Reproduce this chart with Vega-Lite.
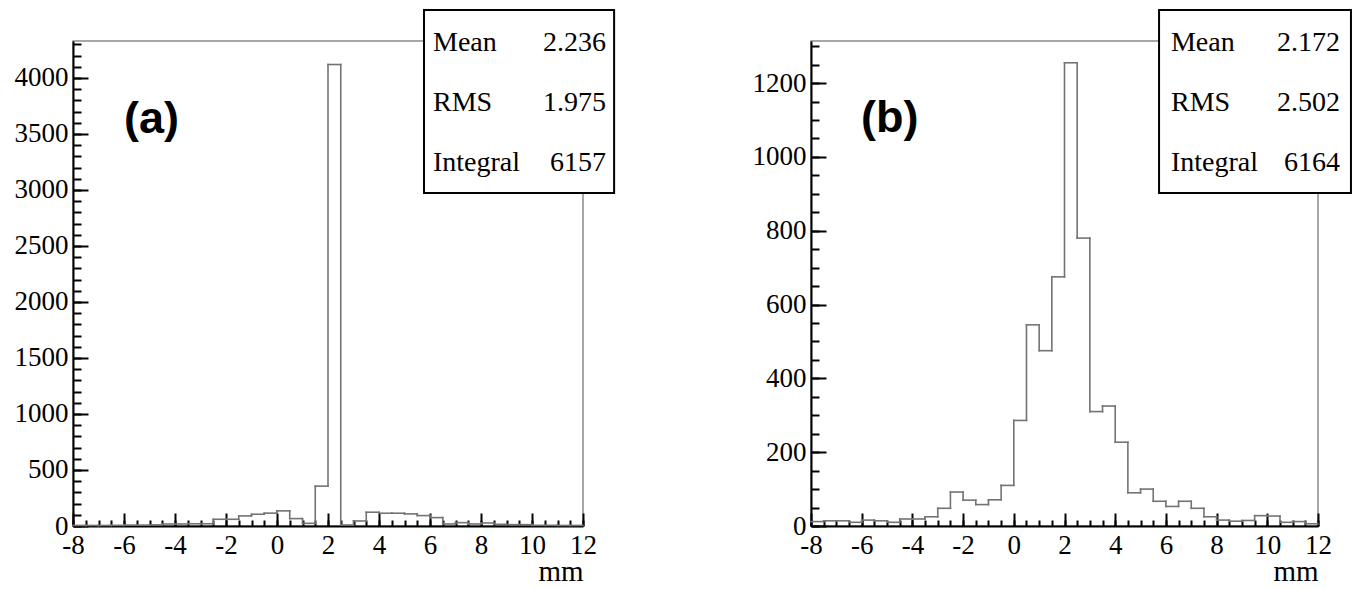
{
  "$schema": "https://vega.github.io/schema/vega-lite/v6.json",
  "background": "white",
  "padding": {"left": 13, "top": 8, "right": 0, "bottom": 0},
  "config": {"view": {"stroke": "#8a8a8a", "strokeWidth": 1.5}, "axis": {"grid": false}},
  "spacing": 135,
  "datasets": {
    "histA": [
      {"lo": -8, "hi": -7.5, "count": 5}, {"lo": -7.5, "hi": -7, "count": 5}, {"lo": -7, "hi": -6.5, "count": 5}, {"lo": -6.5, "hi": -6, "count": 6},
      {"lo": -6, "hi": -5.5, "count": 8}, {"lo": -5.5, "hi": -5, "count": 8}, {"lo": -5, "hi": -4.5, "count": 10}, {"lo": -4.5, "hi": -4, "count": 18},
      {"lo": -4, "hi": -3.5, "count": 18}, {"lo": -3.5, "hi": -3, "count": 20}, {"lo": -3, "hi": -2.5, "count": 20}, {"lo": -2.5, "hi": -2, "count": 60},
      {"lo": -2, "hi": -1.5, "count": 60}, {"lo": -1.5, "hi": -1, "count": 90}, {"lo": -1, "hi": -0.5, "count": 105}, {"lo": -0.5, "hi": 0, "count": 115},
      {"lo": 0, "hi": 0.5, "count": 135}, {"lo": 0.5, "hi": 1, "count": 66}, {"lo": 1, "hi": 1.5, "count": 24}, {"lo": 1.5, "hi": 2, "count": 356},
      {"lo": 2, "hi": 2.5, "count": 4120}, {"lo": 2.5, "hi": 3, "count": 9}, {"lo": 3, "hi": 3.5, "count": 45}, {"lo": 3.5, "hi": 4, "count": 123},
      {"lo": 4, "hi": 4.5, "count": 114}, {"lo": 4.5, "hi": 5, "count": 114}, {"lo": 5, "hi": 5.5, "count": 108}, {"lo": 5.5, "hi": 6, "count": 93},
      {"lo": 6, "hi": 6.5, "count": 75}, {"lo": 6.5, "hi": 7, "count": 18}, {"lo": 7, "hi": 7.5, "count": 30}, {"lo": 7.5, "hi": 8, "count": 18},
      {"lo": 8, "hi": 8.5, "count": 27}, {"lo": 8.5, "hi": 9, "count": 15}, {"lo": 9, "hi": 9.5, "count": 12}, {"lo": 9.5, "hi": 10, "count": 12},
      {"lo": 10, "hi": 10.5, "count": 6}, {"lo": 10.5, "hi": 11, "count": 6}, {"lo": 11, "hi": 11.5, "count": 5}, {"lo": 11.5, "hi": 12, "count": 5}
    ],
    "histB": [
      {"lo": -8, "hi": -7.5, "count": 12}, {"lo": -7.5, "hi": -7, "count": 14}, {"lo": -7, "hi": -6.5, "count": 14}, {"lo": -6.5, "hi": -6, "count": 10},
      {"lo": -6, "hi": -5.5, "count": 16}, {"lo": -5.5, "hi": -5, "count": 14}, {"lo": -5, "hi": -4.5, "count": 10}, {"lo": -4.5, "hi": -4, "count": 19},
      {"lo": -4, "hi": -3.5, "count": 19}, {"lo": -3.5, "hi": -3, "count": 25}, {"lo": -3, "hi": -2.5, "count": 48}, {"lo": -2.5, "hi": -2, "count": 92},
      {"lo": -2, "hi": -1.5, "count": 70}, {"lo": -1.5, "hi": -1, "count": 58}, {"lo": -1, "hi": -0.5, "count": 71}, {"lo": -0.5, "hi": 0, "count": 110},
      {"lo": 0, "hi": 0.5, "count": 286}, {"lo": 0.5, "hi": 1, "count": 545}, {"lo": 1, "hi": 1.5, "count": 475}, {"lo": 1.5, "hi": 2, "count": 675},
      {"lo": 2, "hi": 2.5, "count": 1255}, {"lo": 2.5, "hi": 3, "count": 780}, {"lo": 3, "hi": 3.5, "count": 310}, {"lo": 3.5, "hi": 4, "count": 325},
      {"lo": 4, "hi": 4.5, "count": 227}, {"lo": 4.5, "hi": 5, "count": 90}, {"lo": 5, "hi": 5.5, "count": 100}, {"lo": 5.5, "hi": 6, "count": 67},
      {"lo": 6, "hi": 6.5, "count": 53}, {"lo": 6.5, "hi": 7, "count": 67}, {"lo": 7, "hi": 7.5, "count": 48}, {"lo": 7.5, "hi": 8, "count": 25},
      {"lo": 8, "hi": 8.5, "count": 16}, {"lo": 8.5, "hi": 9, "count": 13}, {"lo": 9, "hi": 9.5, "count": 15}, {"lo": 9.5, "hi": 10, "count": 28},
      {"lo": 10, "hi": 10.5, "count": 27}, {"lo": 10.5, "hi": 11, "count": 10}, {"lo": 11, "hi": 11.5, "count": 12}, {"lo": 11.5, "hi": 12, "count": 6}
    ],
    "statsA": [{"stat": "Mean", "value": "2.236"}, {"stat": "RMS", "value": "1.975"}, {"stat": "Integral", "value": "6157"}],
    "statsB": [{"stat": "Mean", "value": "2.172"}, {"stat": "RMS", "value": "2.502"}, {"stat": "Integral", "value": "6164"}],
    "tagA": [{"tag": "(a)"}],
    "tagB": [{"tag": "(b)"}]
  },
  "hconcat": [
    {
      "width": 510,
      "height": 485,
      "resolve": {"axis": {"x": "independent", "y": "independent"}},
      "layer": [
        {
          "data": {"name": "histA"},
          "mark": {"type": "rule", "color": "#737373", "strokeWidth": 1.6, "strokeCap": "square"},
          "encoding": {
            "x": {"field": "lo", "type": "quantitative", "scale": {"domain": [-8, 12], "nice": false, "zero": false},
              "axis": {"orient": "bottom", "values": [-8, -6, -4, -2, 0, 2, 4, 6, 8, 10, 12], "ticks": false, "domainColor": "black", "domainWidth": 2, "labelExpr": "datum.value + ''", "labelFont": "Liberation Serif", "labelFontSize": 27, "labelColor": "black", "labelPadding": 6, "labelFlush": false, "labelOverlap": false, "title": "mm", "titleAnchor": "end", "titleFont": "Liberation Serif", "titleFontSize": 29, "titleFontWeight": "normal", "titleColor": "black", "titlePadding": -1}},
            "x2": {"field": "hi"},
            "y": {"field": "count", "type": "quantitative", "scale": {"domain": [0, 4330], "nice": false},
              "axis": {"orient": "left", "values": [0, 500, 1000, 1500, 2000, 2500, 3000, 3500, 4000], "ticks": false, "domainColor": "black", "domainWidth": 2, "labelExpr": "datum.value + ''", "labelFont": "Liberation Serif", "labelFontSize": 27, "labelColor": "black", "labelPadding": 5, "labelFlush": false, "labelOverlap": false, "title": null}}
          }
        },
        {
          "data": {"name": "histA"},
          "transform": [{"window": [{"op": "lag", "field": "count", "as": "prev"}], "sort": [{"field": "lo", "order": "ascending"}]}],
          "mark": {"type": "rule", "color": "#737373", "strokeWidth": 1.6, "strokeCap": "square"},
          "encoding": {
            "x": {"field": "lo", "type": "quantitative",
              "axis": {"orient": "bottom", "values": [-8, -6, -4, -2, 0, 2, 4, 6, 8, 10, 12], "tickSize": -13, "tickColor": "black", "tickWidth": 2, "labels": false, "domain": false, "title": null}},
            "y": {"field": "prev", "type": "quantitative",
              "axis": {"orient": "left", "values": [0, 500, 1000, 1500, 2000, 2500, 3000, 3500, 4000], "tickSize": -15, "tickColor": "black", "tickWidth": 2, "labels": false, "domain": false, "title": null}},
            "y2": {"field": "count"}
          }
        },
        {
          "data": {"name": "statsA"},
          "transform": [{"filter": "datum.stat === 'Mean'"}],
          "mark": {"type": "rect", "fill": "white", "stroke": "black", "strokeWidth": 2},
          "encoding": {
            "x": {"datum": 5.765, "type": "quantitative",
              "axis": {"orient": "bottom", "values": [-8, -7.5, -7, -6.5, -6, -5.5, -5, -4.5, -4, -3.5, -3, -2.5, -2, -1.5, -1, -0.5, 0, 0.5, 1, 1.5, 2, 2.5, 3, 3.5, 4, 4.5, 5, 5.5, 6, 6.5, 7, 7.5, 8, 8.5, 9, 9.5, 10, 10.5, 11, 11.5, 12], "tickSize": -6, "tickColor": "black", "tickWidth": 2, "labels": false, "domain": false, "title": null}},
            "x2": {"datum": 13.22},
            "y": {"datum": 2973, "type": "quantitative",
              "axis": {"orient": "left", "values": [0, 100, 200, 300, 400, 500, 600, 700, 800, 900, 1000, 1100, 1200, 1300, 1400, 1500, 1600, 1700, 1800, 1900, 2000, 2100, 2200, 2300, 2400, 2500, 2600, 2700, 2800, 2900, 3000, 3100, 3200, 3300, 3400, 3500, 3600, 3700, 3800, 3900, 4000, 4100, 4200, 4300], "tickSize": -8, "tickColor": "black", "tickWidth": 2, "labels": false, "domain": false, "title": null}},
            "y2": {"datum": 4607}
          }
        },
        {
          "data": {"name": "statsA"}, "transform": [{"filter": "datum.stat === 'Mean'"}],
          "mark": {"type": "text", "font": "Liberation Serif", "fontSize": 28, "color": "black", "align": "left", "baseline": "alphabetic"},
          "encoding": {"x": {"datum": 6.118, "type": "quantitative", "axis": null}, "y": {"datum": 4241, "type": "quantitative", "axis": null}, "text": {"field": "stat"}}
        },
        {
          "data": {"name": "statsA"}, "transform": [{"filter": "datum.stat === 'Mean'"}],
          "mark": {"type": "text", "font": "Liberation Serif", "fontSize": 28, "color": "black", "align": "right", "baseline": "alphabetic"},
          "encoding": {"x": {"datum": 12.9, "type": "quantitative", "axis": null}, "y": {"datum": 4241, "type": "quantitative", "axis": null}, "text": {"field": "value"}}
        },
        {
          "data": {"name": "statsA"}, "transform": [{"filter": "datum.stat === 'RMS'"}],
          "mark": {"type": "text", "font": "Liberation Serif", "fontSize": 28, "color": "black", "align": "left", "baseline": "alphabetic"},
          "encoding": {"x": {"datum": 6.118, "type": "quantitative", "axis": null}, "y": {"datum": 3705, "type": "quantitative", "axis": null}, "text": {"field": "stat"}}
        },
        {
          "data": {"name": "statsA"}, "transform": [{"filter": "datum.stat === 'RMS'"}],
          "mark": {"type": "text", "font": "Liberation Serif", "fontSize": 28, "color": "black", "align": "right", "baseline": "alphabetic"},
          "encoding": {"x": {"datum": 12.9, "type": "quantitative", "axis": null}, "y": {"datum": 3705, "type": "quantitative", "axis": null}, "text": {"field": "value"}}
        },
        {
          "data": {"name": "statsA"}, "transform": [{"filter": "datum.stat === 'Integral'"}],
          "mark": {"type": "text", "font": "Liberation Serif", "fontSize": 28, "color": "black", "align": "left", "baseline": "alphabetic"},
          "encoding": {"x": {"datum": 6.118, "type": "quantitative", "axis": null}, "y": {"datum": 3170, "type": "quantitative", "axis": null}, "text": {"field": "stat"}}
        },
        {
          "data": {"name": "statsA"}, "transform": [{"filter": "datum.stat === 'Integral'"}],
          "mark": {"type": "text", "font": "Liberation Serif", "fontSize": 28, "color": "black", "align": "right", "baseline": "alphabetic"},
          "encoding": {"x": {"datum": 12.9, "type": "quantitative", "axis": null}, "y": {"datum": 3170, "type": "quantitative", "axis": null}, "text": {"field": "value"}}
        },
        {
          "data": {"name": "tagA"},
          "mark": {"type": "text", "font": "Liberation Sans", "fontWeight": "bold", "fontSize": 45, "color": "black", "align": "left", "baseline": "alphabetic"},
          "encoding": {"x": {"datum": -6.0, "type": "quantitative", "axis": null}, "y": {"datum": 3509, "type": "quantitative", "axis": null}, "text": {"field": "tag"}}
        }
      ]
    },
    {
      "width": 507,
      "height": 485,
      "resolve": {"axis": {"x": "independent", "y": "independent"}},
      "layer": [
        {
          "data": {"name": "histB"},
          "mark": {"type": "rule", "color": "#737373", "strokeWidth": 1.6, "strokeCap": "square"},
          "encoding": {
            "x": {"field": "lo", "type": "quantitative", "scale": {"domain": [-8, 12], "nice": false, "zero": false},
              "axis": {"orient": "bottom", "values": [-8, -6, -4, -2, 0, 2, 4, 6, 8, 10, 12], "ticks": false, "domainColor": "black", "domainWidth": 2, "labelExpr": "datum.value + ''", "labelFont": "Liberation Serif", "labelFontSize": 27, "labelColor": "black", "labelPadding": 6, "labelFlush": false, "labelOverlap": false, "title": "mm", "titleAnchor": "end", "titleFont": "Liberation Serif", "titleFontSize": 29, "titleFontWeight": "normal", "titleColor": "black", "titlePadding": -1}},
            "x2": {"field": "hi"},
            "y": {"field": "count", "type": "quantitative", "scale": {"domain": [0, 1314], "nice": false},
              "axis": {"orient": "left", "values": [0, 200, 400, 600, 800, 1000, 1200], "ticks": false, "domainColor": "black", "domainWidth": 2, "labelExpr": "datum.value + ''", "labelFont": "Liberation Serif", "labelFontSize": 27, "labelColor": "black", "labelPadding": 5, "labelFlush": false, "labelOverlap": false, "title": null}}
          }
        },
        {
          "data": {"name": "histB"},
          "transform": [{"window": [{"op": "lag", "field": "count", "as": "prev"}], "sort": [{"field": "lo", "order": "ascending"}]}],
          "mark": {"type": "rule", "color": "#737373", "strokeWidth": 1.6, "strokeCap": "square"},
          "encoding": {
            "x": {"field": "lo", "type": "quantitative",
              "axis": {"orient": "bottom", "values": [-8, -6, -4, -2, 0, 2, 4, 6, 8, 10, 12], "tickSize": -13, "tickColor": "black", "tickWidth": 2, "labels": false, "domain": false, "title": null}},
            "y": {"field": "prev", "type": "quantitative",
              "axis": {"orient": "left", "values": [0, 200, 400, 600, 800, 1000, 1200], "tickSize": -15, "tickColor": "black", "tickWidth": 2, "labels": false, "domain": false, "title": null}},
            "y2": {"field": "count"}
          }
        },
        {
          "data": {"name": "statsB"},
          "transform": [{"filter": "datum.stat === 'Mean'"}],
          "mark": {"type": "rect", "fill": "white", "stroke": "black", "strokeWidth": 2},
          "encoding": {
            "x": {"datum": 5.73, "type": "quantitative",
              "axis": {"orient": "bottom", "values": [-8, -7.5, -7, -6.5, -6, -5.5, -5, -4.5, -4, -3.5, -3, -2.5, -2, -1.5, -1, -0.5, 0, 0.5, 1, 1.5, 2, 2.5, 3, 3.5, 4, 4.5, 5, 5.5, 6, 6.5, 7, 7.5, 8, 8.5, 9, 9.5, 10, 10.5, 11, 11.5, 12], "tickSize": -6, "tickColor": "black", "tickWidth": 2, "labels": false, "domain": false, "title": null}},
            "x2": {"datum": 13.3},
            "y": {"datum": 902, "type": "quantitative",
              "axis": {"orient": "left", "values": [0, 50, 100, 150, 200, 250, 300, 350, 400, 450, 500, 550, 600, 650, 700, 750, 800, 850, 900, 950, 1000, 1050, 1100, 1150, 1200, 1250, 1300], "tickSize": -8, "tickColor": "black", "tickWidth": 2, "labels": false, "domain": false, "title": null}},
            "y2": {"datum": 1398}
          }
        },
        {
          "data": {"name": "statsB"}, "transform": [{"filter": "datum.stat === 'Mean'"}],
          "mark": {"type": "text", "font": "Liberation Serif", "fontSize": 28, "color": "black", "align": "left", "baseline": "alphabetic"},
          "encoding": {"x": {"datum": 6.2, "type": "quantitative", "axis": null}, "y": {"datum": 1286.6, "type": "quantitative", "axis": null}, "text": {"field": "stat"}}
        },
        {
          "data": {"name": "statsB"}, "transform": [{"filter": "datum.stat === 'Mean'"}],
          "mark": {"type": "text", "font": "Liberation Serif", "fontSize": 28, "color": "black", "align": "right", "baseline": "alphabetic"},
          "encoding": {"x": {"datum": 12.87, "type": "quantitative", "axis": null}, "y": {"datum": 1286.6, "type": "quantitative", "axis": null}, "text": {"field": "value"}}
        },
        {
          "data": {"name": "statsB"}, "transform": [{"filter": "datum.stat === 'RMS'"}],
          "mark": {"type": "text", "font": "Liberation Serif", "fontSize": 28, "color": "black", "align": "left", "baseline": "alphabetic"},
          "encoding": {"x": {"datum": 6.2, "type": "quantitative", "axis": null}, "y": {"datum": 1124, "type": "quantitative", "axis": null}, "text": {"field": "stat"}}
        },
        {
          "data": {"name": "statsB"}, "transform": [{"filter": "datum.stat === 'RMS'"}],
          "mark": {"type": "text", "font": "Liberation Serif", "fontSize": 28, "color": "black", "align": "right", "baseline": "alphabetic"},
          "encoding": {"x": {"datum": 12.87, "type": "quantitative", "axis": null}, "y": {"datum": 1124, "type": "quantitative", "axis": null}, "text": {"field": "value"}}
        },
        {
          "data": {"name": "statsB"}, "transform": [{"filter": "datum.stat === 'Integral'"}],
          "mark": {"type": "text", "font": "Liberation Serif", "fontSize": 28, "color": "black", "align": "left", "baseline": "alphabetic"},
          "encoding": {"x": {"datum": 6.2, "type": "quantitative", "axis": null}, "y": {"datum": 961.5, "type": "quantitative", "axis": null}, "text": {"field": "stat"}}
        },
        {
          "data": {"name": "statsB"}, "transform": [{"filter": "datum.stat === 'Integral'"}],
          "mark": {"type": "text", "font": "Liberation Serif", "fontSize": 28, "color": "black", "align": "right", "baseline": "alphabetic"},
          "encoding": {"x": {"datum": 12.87, "type": "quantitative", "axis": null}, "y": {"datum": 961.5, "type": "quantitative", "axis": null}, "text": {"field": "value"}}
        },
        {
          "data": {"name": "tagB"},
          "mark": {"type": "text", "font": "Liberation Sans", "fontWeight": "bold", "fontSize": 45, "color": "black", "align": "left", "baseline": "alphabetic"},
          "encoding": {"x": {"datum": -6.03, "type": "quantitative", "axis": null}, "y": {"datum": 1067, "type": "quantitative", "axis": null}, "text": {"field": "tag"}}
        }
      ]
    }
  ]
}
